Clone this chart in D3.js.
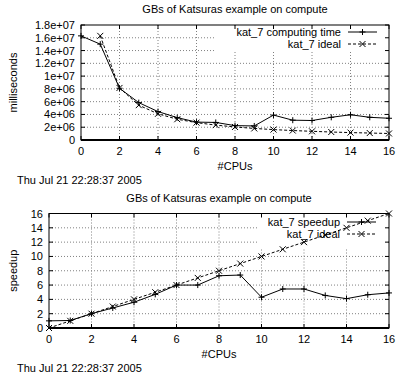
<!DOCTYPE html>
<html>
<head>
<meta charset="utf-8">
<script src="https://cdn.jsdelivr.net/npm/d3@7/dist/d3.min.js"></script>
<style>
  html, body { margin: 0; padding: 0; background: #fff; }
  svg { display: block; }
  text { font-family: "Liberation Sans", Arial, Helvetica, sans-serif; font-size: 11px; fill: #000; }
</style>
</head>
<body>
<svg id="chart" width="396" height="376"></svg>
<script>
// ---------- data ----------
const title = "GBs of Katsuras example on compute";
const dateText = "Thu Jul 21 22:28:37 2005";
const cpus = [0,1,2,3,4,5,6,7,8,9,10,11,12,13,14,15,16];
const computingTime = [16300000,15000000,8100000,5850000,4450000,3500000,2800000,2750000,2250000,2200000,3900000,3100000,3050000,3550000,3950000,3550000,3400000];
const idealCpus = [1,2,3,4,5,6,7,8,9,10,11,12,13,14,15,16];
const idealTime = [16300000,8150000,5450000,4100000,3250000,2720000,2330000,2040000,1810000,1630000,1480000,1360000,1250000,1160000,1090000,1020000];
const speedup = [1.0,1.05,2.0,2.8,3.6,4.7,6.0,6.0,7.3,7.4,4.3,5.45,5.45,4.55,4.1,4.65,4.9];
const idealSpeedupCpus = [0,1,2,3,4,5,6,7,8,9,10,11,12,13,14,15,16];
const idealSpeedup = [0,1,2,3,4,5,6,7,8,9,10,11,12,13,14,15,16];
const xTicks = [0,2,4,6,8,10,12,14,16];
const yTicksTime = [0,2e6,4e6,6e6,8e6,1e7,1.2e7,1.4e7,1.6e7,1.8e7];
const yTickLabelsTime = ["0","2e+06","4e+06","6e+06","8e+06","1e+07","1.2e+07","1.4e+07","1.6e+07","1.8e+07"];
const yTicksSpeed = [0,2,4,6,8,10,12,14,16];
const yTickLabelsSpeed = ["0","2","4","6","8","10","12","14","16"];

const svg = d3.select("#chart");

function drawPanel(cfg) {
  const g = svg.append("g");
  const x = d3.scaleLinear().domain([0,16]).range([cfg.left, cfg.right]);
  const y = d3.scaleLinear().domain(cfg.yDomain).range([cfg.bottom, cfg.top]);

  // grid
  const grid = g.append("g").attr("stroke", "#808080").attr("stroke-width", 1).attr("stroke-dasharray", "1,2");
  xTicks.forEach(t => {
    if (t === 0 || t === 16) return;
    grid.append("line").attr("x1", x(t)).attr("x2", x(t)).attr("y1", cfg.top).attr("y2", cfg.bottom);
  });
  cfg.yTicks.forEach(t => {
    if (t === cfg.yDomain[0] || t === cfg.yDomain[1]) return;
    grid.append("line").attr("x1", cfg.left).attr("x2", cfg.right).attr("y1", y(t)).attr("y2", y(t));
  });
  // key area blanks the grid
  g.append("rect").attr("x", cfg.keyBox[0]).attr("y", cfg.top + 1)
    .attr("width", cfg.right - cfg.keyBox[0] - 1).attr("height", cfg.keyBox[1] - cfg.top)
    .attr("fill", "#fff");

  // ticks (inward, mirrored)
  const tk = g.append("g").attr("stroke", "#000").attr("stroke-width", 1);
  xTicks.forEach(t => {
    tk.append("line").attr("x1", x(t)).attr("x2", x(t)).attr("y1", cfg.bottom).attr("y2", cfg.bottom - 4);
    tk.append("line").attr("x1", x(t)).attr("x2", x(t)).attr("y1", cfg.top).attr("y2", cfg.top + 4);
  });
  cfg.yTicks.forEach(t => {
    tk.append("line").attr("x1", cfg.left).attr("x2", cfg.left + 4).attr("y1", y(t)).attr("y2", y(t));
    tk.append("line").attr("x1", cfg.right).attr("x2", cfg.right - 4).attr("y1", y(t)).attr("y2", y(t));
  });

  // tick labels
  xTicks.forEach(t => {
    g.append("text").attr("x", x(t)).attr("y", cfg.bottom + 15).attr("text-anchor", "middle").text(t);
  });
  cfg.yTicks.forEach((t, i) => {
    g.append("text").attr("x", cfg.left - 6).attr("y", y(t) + 4).attr("text-anchor", "end").text(cfg.yTickLabels[i]);
  });

  // border
  g.append("rect").attr("x", cfg.left).attr("y", cfg.top).attr("width", cfg.right - cfg.left)
    .attr("height", cfg.bottom - cfg.top).attr("fill", "none").attr("stroke", "#000").attr("stroke-width", 1);
  g.append("line").attr("x1", cfg.left).attr("x2", cfg.right).attr("y1", cfg.bottom).attr("y2", cfg.bottom)
    .attr("stroke", "#000").attr("stroke-width", 2);

  // series
  const line = d3.line().x(d => x(d[0])).y(d => y(d[1]));
  const s1 = cfg.s1x.map((v, i) => [v, cfg.s1y[i]]);
  const s2 = cfg.s2x.map((v, i) => [v, cfg.s2y[i]]);
  g.append("path").datum(s1).attr("d", line).attr("fill", "none").attr("stroke", "#000").attr("stroke-width", 1);
  g.append("path").datum(s2).attr("d", line).attr("fill", "none").attr("stroke", "#000").attr("stroke-width", 1).attr("stroke-dasharray", "3,2");

  const plus = (px, py) => `M${px-3},${py}H${px+3}M${px},${py-3}V${py+3}`;
  const cross = (px, py) => `M${px-3},${py-3}L${px+3},${py+3}M${px-3},${py+3}L${px+3},${py-3}`;
  g.append("path").attr("d", s1.map(d => plus(x(d[0]), y(d[1]))).join(""))
    .attr("stroke", "#000").attr("stroke-width", 1).attr("fill", "none");
  g.append("path").attr("d", s2.map(d => cross(x(d[0]), y(d[1]))).join(""))
    .attr("stroke", "#000").attr("stroke-width", 1).attr("fill", "none");

  // key
  const kx = cfg.keyText, ky1 = cfg.keyY[0], ky2 = cfg.keyY[1];
  g.append("text").attr("x", kx).attr("y", ky1 + 4).attr("text-anchor", "end").text(cfg.s1name);
  g.append("text").attr("x", kx).attr("y", ky2 + 4).attr("text-anchor", "end").text(cfg.s2name);
  const lx1 = kx + 7, lx2 = kx + 36, lm = (lx1 + lx2) / 2;
  g.append("line").attr("x1", lx1).attr("x2", lx2).attr("y1", ky1).attr("y2", ky1).attr("stroke", "#000");
  g.append("path").attr("d", plus(lm, ky1)).attr("stroke", "#000");
  g.append("line").attr("x1", lx1).attr("x2", lx2).attr("y1", ky2).attr("y2", ky2).attr("stroke", "#000").attr("stroke-dasharray", "3,2");
  g.append("path").attr("d", cross(lm, ky2)).attr("stroke", "#000");

  // titles & labels
  g.append("text").attr("x", (cfg.left + cfg.right) / 2).attr("y", cfg.top - 12).attr("text-anchor", "middle").text(title);
  g.append("text").attr("x", (cfg.left + cfg.right) / 2).attr("y", cfg.bottom + 30).attr("text-anchor", "middle").text("#CPUs");
  g.append("text").attr("transform", `translate(17,${(cfg.top + cfg.bottom) / 2}) rotate(-90)`)
    .attr("text-anchor", "middle").text(cfg.ylabel);
  g.append("text").attr("x", 17).attr("y", cfg.bottom + 44).text(dateText);
}

drawPanel({
  left: 81, right: 389, top: 25, bottom: 140,
  yDomain: [0, 1.8e7], yTicks: yTicksTime, yTickLabels: yTickLabelsTime,
  s1x: cpus, s1y: computingTime, s2x: idealCpus, s2y: idealTime,
  s1name: "kat_7 computing time", s2name: "kat_7 ideal",
  keyText: 341, keyY: [32, 44], keyBox: [214, 51],
  ylabel: "milliseconds"
});

drawPanel({
  left: 49, right: 389, top: 213.5, bottom: 328,
  yDomain: [0, 16], yTicks: yTicksSpeed, yTickLabels: yTickLabelsSpeed,
  s1x: cpus, s1y: speedup, s2x: idealSpeedupCpus, s2y: idealSpeedup,
  s1name: "kat_7 speedup", s2name: "kat_7 ideal",
  keyText: 340, keyY: [222, 234], keyBox: [258, 247],
  ylabel: "speedup"
});
</script>
</body>
</html>
